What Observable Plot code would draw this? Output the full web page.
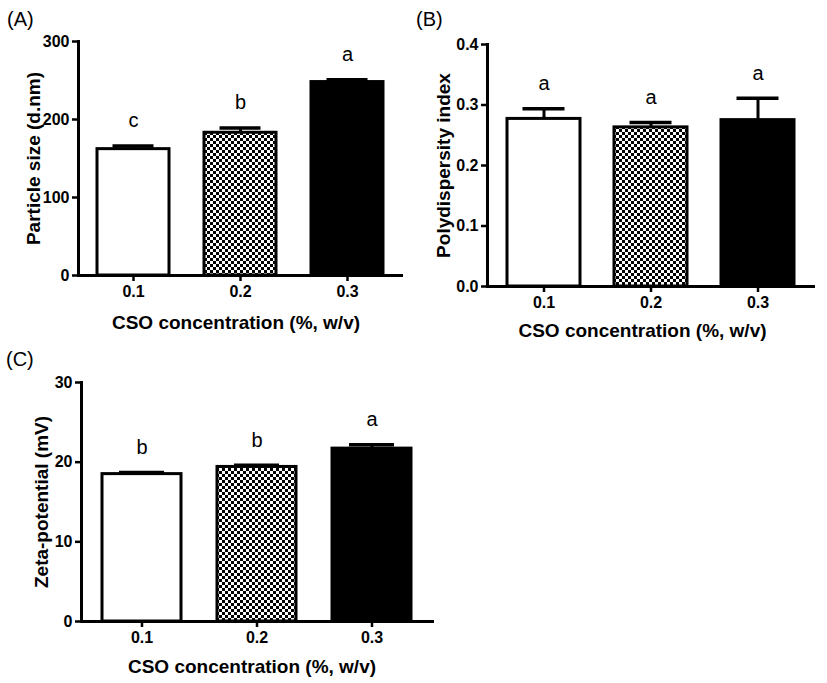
<!DOCTYPE html>
<html>
<head>
<meta charset="utf-8">
<script src="https://cdn.jsdelivr.net/npm/d3@7"></script>
<script src="https://cdn.jsdelivr.net/npm/@observablehq/plot@0.6"></script>
<style>
  body { margin: 0; background: #fff; }
  #fig { position: relative; width: 827px; height: 683px; background: #fff; overflow: hidden;
         font-family: "Liberation Sans", Arial, sans-serif; color: #000; }
  .panel { position: absolute; }
  .tag { position: absolute; font-size: 20px; line-height: 20px; font-family: "Liberation Sans", Arial, sans-serif; }
</style>
</head>
<body>
<svg width="0" height="0" style="position:absolute">
  <defs>
    <pattern id="checker" width="6" height="6" patternUnits="userSpaceOnUse">
      <rect width="6" height="6" fill="#fff"/>
      <rect width="3" height="3" fill="#000"/>
      <rect x="3" y="3" width="3" height="3" fill="#000"/>
    </pattern>
  </defs>
</svg>
<div id="fig">
  <div class="tag" style="left:7px;top:9px">(A)</div>
  <div class="tag" style="left:416px;top:9px">(B)</div>
  <div class="tag" style="left:6px;top:349px">(C)</div>
</div>
<script>
// ---- data ----
const concentrations = ["0.1", "0.2", "0.3"];
const barFills = ["#ffffff", "url(#checker)", "#000000"];
const xTitle = "CSO concentration (%, w/v)";

const particleSize = [162, 183, 248];
const particleSizeErr = [4, 6, 3];
const particleLetters = ["c", "b", "a"];
const particleTicks = [0, 100, 200, 300];

const pdi = [0.277, 0.263, 0.275];
const pdiErr = [0.017, 0.008, 0.036];
const pdiLetters = ["a", "a", "a"];
const pdiTicks = [0, 0.1, 0.2, 0.3, 0.4];

const zeta = [18.5, 19.4, 21.7];
const zetaErr = [0.2, 0.2, 0.5];
const zetaLetters = ["b", "b", "a"];
const zetaTicks = [0, 10, 20, 30];

const font = "Liberation Sans, Arial, sans-serif";

function panel(o) {
  const rows = concentrations.map((c, i) => ({
    conc: c, value: o.values[i], top: o.values[i] + o.errs[i], letter: o.letters[i]
  }));
  return Plot.plot({
    width: o.width, height: o.height,
    marginLeft: o.ml, marginRight: o.mr, marginTop: o.mt, marginBottom: o.mb,
    style: { background: "none", fontFamily: font, color: "#000", overflow: "visible" },
    x: { domain: concentrations, paddingInner: o.pi, paddingOuter: o.po },
    y: { domain: o.yDomain },
    color: { domain: concentrations, range: barFills },
    marks: [
      Plot.ruleX(rows, { x: "conc", y1: "value", y2: "top", stroke: "#000", strokeWidth: 3 }),
      Plot.tickY(rows, { x: "conc", y: "top", stroke: "#000", strokeWidth: 3.5, insetLeft: o.cap, insetRight: o.cap }),
      Plot.barY(rows, { x: "conc", y: "value", fill: "conc", stroke: "#000", strokeWidth: 3 }),
      Plot.text(rows, { x: "conc", y: "top", text: "letter", dy: -25, fontSize: 20, fill: "#000" }),
      Plot.axisY({ ticks: o.yTicks, tickFormat: o.fmt, tickSize: 6, tickPadding: 3, strokeWidth: 2.5,
                   fontSize: 16, fontWeight: "bold", label: null }),
      Plot.axisX({ tickSize: 6, tickPadding: 4, strokeWidth: 2.5, fontSize: 16, fontWeight: "bold", label: null }),
      Plot.frame({ anchor: "left", stroke: "#000", strokeWidth: 3 }),
      Plot.frame({ anchor: "bottom", stroke: "#000", strokeWidth: 3 }),
      Plot.text([o.yLabel], { frameAnchor: "left", text: d => d, rotate: -90, dx: o.ylDx,
                              textAnchor: "middle", lineAnchor: "middle",
                              fontSize: 19, fontWeight: "bold", fill: "#000" }),
      Plot.text([xTitle], { frameAnchor: "bottom", text: d => d, dy: o.xlDy, dx: o.xlDx || 0,
                            textAnchor: "middle", lineAnchor: "middle",
                            fontSize: 19, fontWeight: "bold", fill: "#000" })
    ]
  });
}

const fig = document.getElementById("fig");
function place(svg, left, top) {
  svg.classList.add("panel");
  svg.style.left = left + "px";
  svg.style.top = top + "px";
  svg.style.position = "absolute";
  fig.appendChild(svg);
}

place(panel({
  values: particleSize, errs: particleSizeErr, letters: particleLetters,
  yDomain: [0, 300], yTicks: particleTicks, fmt: d => String(d), yLabel: "Particle size (d.nm)",
  width: 405, height: 345, ml: 78, mr: 4, mt: 41, mb: 70, pi: 0.33, po: 0.168, cap: 15.5,
  ylDx: -45, xlDy: 47, xlDx: -4
}), 0, 0);

place(panel({
  values: pdi, errs: pdiErr, letters: pdiLetters,
  yDomain: [0, 0.4], yTicks: pdiTicks, fmt: d => d.toFixed(1), yLabel: "Polydispersity index",
  width: 427, height: 345, ml: 87, mr: 14, mt: 44, mb: 59, pi: 0.318, po: 0.177, cap: 15.5,
  ylDx: -43.5, xlDy: 44, xlDx: -8
}), 400, 0);

place(panel({
  values: zeta, errs: zetaErr, letters: zetaLetters,
  yDomain: [0, 30], yTicks: zetaTicks, fmt: d => String(d), yLabel: "Zeta-potential (mV)",
  width: 440, height: 353, ml: 81, mr: 8, mt: 52, mb: 62, pi: 0.313, po: 0.18, cap: 17,
  ylDx: -40, xlDy: 45, xlDx: -5
}), 0, 330);
</script>
</body>
</html>
